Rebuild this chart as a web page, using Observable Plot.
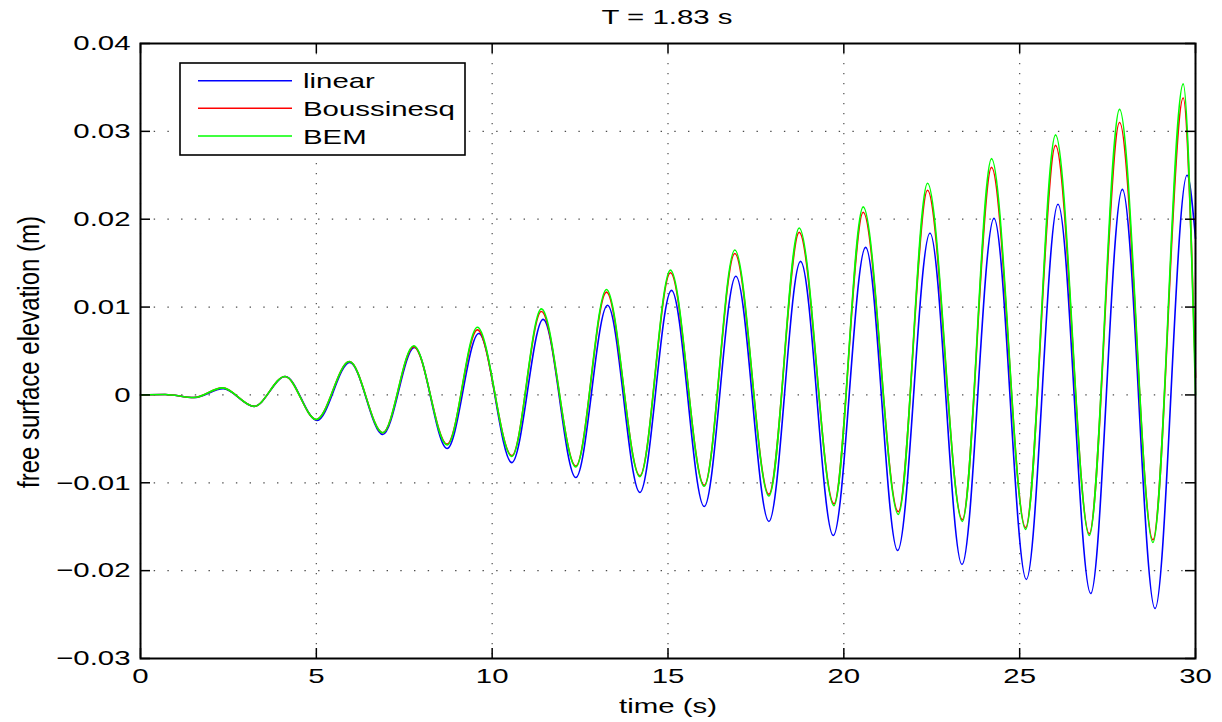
<!DOCTYPE html>
<html><head><meta charset="utf-8">
<script src="https://cdn.jsdelivr.net/npm/d3@7"></script>
<script src="https://cdn.jsdelivr.net/npm/@observablehq/plot@0.6"></script>
<style>
body{margin:0;background:#fff;font-family:"Liberation Sans",Arial,Helvetica,sans-serif;}
#wrap{position:relative;width:1222px;height:722px;overflow:hidden;}
#title{position:relative;height:34px;}
#title span{position:absolute;left:667px;top:0;line-height:34px;font-size:21px;white-space:nowrap;transform:translateX(-50%) scaleX(1.4);color:#000;}
#legend{position:absolute;left:179px;top:62px;}
</style></head><body>
<div id="wrap"><div id="title"><span id="titleText"></span></div><div id="chart"></div></div>
<script>
const titleText = "T = 1.83 s";
const xLabel = "time (s)";
const yLabel = "free surface elevation (m)";
const seriesNames = ["linear", "Boussinesq", "BEM"];
const seriesColors = ["#0000ff", "#ff0000", "#00ff00"];
const xTicks = [0, 5, 10, 15, 20, 25, 30];
const yTicks = [-0.03, -0.02, -0.01, 0, 0.01, 0.02, 0.03, 0.04];

// linear theory: times of extrema (s) and elevations (m)
const linearTime = [0, 0.7, 1.52, 2.35, 3.23, 4.12, 5.02, 5.95, 6.89, 7.79, 8.72, 9.62, 10.56, 11.45, 12.38, 13.28, 14.2, 15.1, 16.03, 16.93, 17.87, 18.77, 19.70, 20.62, 21.53, 22.45, 23.36, 24.27, 25.19, 26.09, 27.02, 27.92, 28.85, 29.76, 30];
const linearElev = [0, 0.00005, -0.0003, 0.0007, -0.0013, 0.0021, -0.0029, 0.0037, -0.0045, 0.0054, -0.0061, 0.0070, -0.0077, 0.0086, -0.0094, 0.0102, -0.0111, 0.0119, -0.0127, 0.0135, -0.0144, 0.0152, -0.0160, 0.0168, -0.0177, 0.0184, -0.0193, 0.0201, -0.0210, 0.0217, -0.0226, 0.0234, -0.0243, 0.0250, 0.0178];

// Boussinesq and BEM share extrema times
const nonlinearTime = [0, 0.7, 1.52, 2.33, 3.23, 4.11, 5.0, 5.94, 6.89, 7.77, 8.72, 9.58, 10.56, 11.40, 12.38, 13.25, 14.2, 15.07, 16.03, 16.90, 17.87, 18.73, 19.72, 20.55, 21.55, 22.38, 23.37, 24.20, 25.17, 26.02, 26.98, 27.84, 28.79, 29.65, 30];
const boussinesqElev = [0, 0.00005, -0.0003, 0.0008, -0.0013, 0.0021, -0.0028, 0.0038, -0.0043, 0.0055, -0.0056, 0.0074, -0.0069, 0.0095, -0.0081, 0.0117, -0.0092, 0.0139, -0.0103, 0.0161, -0.0113, 0.0185, -0.0124, 0.0208, -0.0133, 0.0233, -0.0142, 0.0259, -0.0151, 0.0284, -0.0158, 0.0310, -0.0165, 0.0338, 0.0020];
const bemElev = [0, 0.00005, -0.0003, 0.0008, -0.0013, 0.0021, -0.0028, 0.0038, -0.0043, 0.0056, -0.0057, 0.0077, -0.0070, 0.0098, -0.0082, 0.0120, -0.0093, 0.0142, -0.0104, 0.0165, -0.0115, 0.0190, -0.0126, 0.0214, -0.0136, 0.0241, -0.0144, 0.0269, -0.0153, 0.0296, -0.0160, 0.0325, -0.0168, 0.0354, 0.0000];

const series = [
  linearTime.map((t, i) => ({t, v: linearElev[i]})),
  nonlinearTime.map((t, i) => ({t, v: boussinesqElev[i]})),
  nonlinearTime.map((t, i) => ({t, v: bemElev[i]}))
];

document.getElementById("titleText").textContent = titleText;

const W = 1222, H = 688, mL = 140, mR = 27, mT = 9, mB = 64;
const pw = W - mL - mR, ph = H - mT - mB;
const tick = 10;
const yFmt = d => d === 0 ? "0" : d3.format(".2f")(d);

const chart = Plot.plot({
  width: W, height: H,
  marginLeft: mL, marginRight: mR, marginTop: mT, marginBottom: mB,
  style: {fontFamily: "'Liberation Sans', Arial, Helvetica, sans-serif", fontSize: "21px", color: "#000", background: "#fff", overflow: "visible"},
  x: {domain: [0, 30]},
  y: {domain: [-0.03, 0.04]},
  marks: [
    Plot.gridX(xTicks, {stroke: "#000", strokeOpacity: 0.7, strokeWidth: 1.2, strokeDasharray: "1.2,8.8"}),
    Plot.gridY(yTicks, {stroke: "#000", strokeOpacity: 0.7, strokeWidth: 1.2, strokeDasharray: "1.4,12.3"}),
    ...series.map((data, i) => Plot.line(data, {x: "t", y: "v", stroke: seriesColors[i], strokeWidth: 1.6, curve: "monotone-x"})),
    Plot.tickX(xTicks, {x: d => d, insetTop: ph - tick, stroke: "#000", strokeWidth: 1.5}),
    Plot.tickX(xTicks, {x: d => d, insetBottom: ph - tick, stroke: "#000", strokeWidth: 1.5}),
    Plot.tickY(yTicks, {y: d => d, insetRight: pw - tick, stroke: "#000", strokeWidth: 1.5}),
    Plot.tickY(yTicks, {y: d => d, insetLeft: pw - tick, stroke: "#000", strokeWidth: 1.5}),
    Plot.frame({stroke: "#000", strokeWidth: 2}),
    Plot.axisX(xTicks, {tickSize: 0, tickPadding: 10, tickFormat: d => String(d), label: null, fontSize: 21}),
    Plot.axisY(yTicks, {tickSize: 0, tickPadding: 10, tickFormat: yFmt, label: null, fontSize: 21}),
    Plot.text([xLabel], {frameAnchor: "bottom", dy: 48, lineAnchor: "middle", textAnchor: "middle", fontSize: 21}),
    Plot.text([yLabel], {frameAnchor: "left", dx: -111, dy: 1, rotate: -90, lineAnchor: "middle", textAnchor: "middle", fontSize: 24})
  ]
});
document.getElementById("chart").appendChild(chart);

// horizontal stretch of the original figure's text
const num = s => s != null && /^-?[\d.]+$/.test(s.trim());
chart.querySelectorAll("text").forEach(t => {
  let tr = t.getAttribute("transform");
  if (!tr) {
    const xs = t.getAttribute("x"), ys = t.getAttribute("y");
    const x = num(xs) ? +xs : 0, y = num(ys) ? +ys : 0;
    if (num(xs)) t.removeAttribute("x");
    if (num(ys)) t.removeAttribute("y");
    tr = `translate(${x},${y})`;
  }
  const isY = t.textContent.includes("free surface");
  t.setAttribute("transform", tr + (isY ? " scale(1,1.2)" : " scale(1.4,1)"));
});

// legend
const ns = "http://www.w3.org/2000/svg";
const lg = document.createElementNS(ns, "svg");
lg.setAttribute("id", "legend");
lg.setAttribute("width", 288); lg.setAttribute("height", 95);
const rect = document.createElementNS(ns, "rect");
Object.entries({x: 1, y: 1, width: 285, height: 92, fill: "#fff", stroke: "#000", "stroke-width": 1.6}).forEach(([k, v]) => rect.setAttribute(k, v));
lg.appendChild(rect);
seriesNames.forEach((name, i) => {
  const y = 18.7 + 27.65 * i;
  const ln = document.createElementNS(ns, "line");
  Object.entries({x1: 19, x2: 113, y1: y, y2: y, stroke: seriesColors[i], "stroke-width": 1.5}).forEach(([k, v]) => ln.setAttribute(k, v));
  lg.appendChild(ln);
  const tx = document.createElementNS(ns, "text");
  tx.setAttribute("transform", `translate(124,${y + 7.6}) scale(1.4,1)`);
  tx.setAttribute("font-size", 21);
  tx.setAttribute("font-family", "'Liberation Sans', Arial, sans-serif");
  tx.textContent = name;
  lg.appendChild(tx);
});
document.getElementById("wrap").appendChild(lg);
</script>
</body></html>
